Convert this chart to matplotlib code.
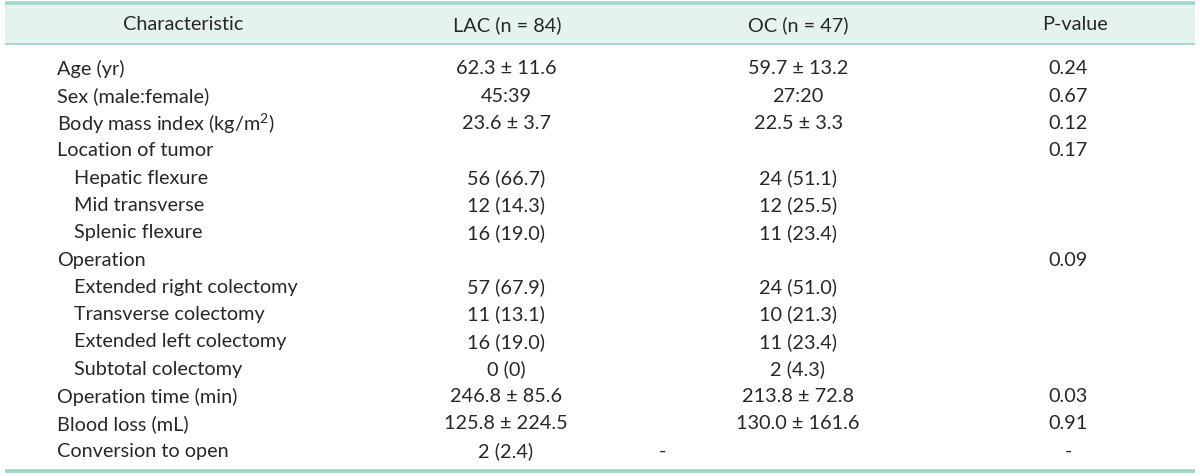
import matplotlib
matplotlib.use('Agg')
import matplotlib.pyplot as plt

plt.rcParams['font.family'] = ['Lato', 'DejaVu Sans']
plt.rcParams['mathtext.fontset'] = 'custom'
plt.rcParams['mathtext.rm'] = 'Lato'
plt.rcParams['mathtext.it'] = 'Lato:italic'

# table content
headers = ['Characteristic', 'LAC (n = 84)', 'OC (n = 47)', 'P-value']
labels = ['Age (yr)', 'Sex (male:female)', 'Body mass index (kg/m$^2$)',
          'Location of tumor', 'Hepatic flexure', 'Mid transverse', 'Splenic flexure',
          'Operation', 'Extended right colectomy', 'Transverse colectomy',
          'Extended left colectomy', 'Subtotal colectomy',
          'Operation time (min)', 'Blood loss (mL)', 'Conversion to open']
subRows = ['Hepatic flexure', 'Mid transverse', 'Splenic flexure',
           'Extended right colectomy', 'Transverse colectomy',
           'Extended left colectomy', 'Subtotal colectomy']
lacVals = ['62.3 \u00b1 11.6', '45:39', '23.6 \u00b1 3.7', '', '56 (66.7)', '12 (14.3)',
           '16 (19.0)', '', '57 (67.9)', '11 (13.1)', '16 (19.0)', '0 (0)',
           '246.8 \u00b1 85.6', '125.8 \u00b1 224.5', '2 (2.4)']
ocVals = ['59.7 \u00b1 13.2', '27:20', '22.5 \u00b1 3.3', '', '24 (51.1)', '12 (25.5)',
          '11 (23.4)', '', '24 (51.0)', '10 (21.3)', '11 (23.4)', '2 (4.3)',
          '213.8 \u00b1 72.8', '130.0 \u00b1 161.6', '-']
pVals = ['0.24', '0.67', '0.12', '0.17', '', '', '', '0.09', '', '', '', '',
         '0.03', '0.91', '-']

W, H = 1200, 477
fig = plt.figure(figsize=(W / 100, H / 100), dpi=100)
ax = fig.add_axes([0, 0, 1, 1])
ax.set_xlim(0, W)
ax.set_ylim(H, 0)
ax.axis('off')

lineCol = '#a3d6cb'
bandCol = '#e4f3ef'
txtCol = '#2a2627'
fs = 14.3

# header band and rules
ax.fill_between([5, 1195], 4, 45, color=bandCol, lw=0)
ax.plot([5, 1195], [4, 4], color=lineCol, lw=2.6, solid_capstyle='butt')
ax.plot([5, 1195], [45, 45], color=lineCol, lw=1.3, solid_capstyle='butt')
ax.plot([5, 1195], [472, 472], color=lineCol, lw=2.8, solid_capstyle='butt')

headX = [183, 507, 798, 1075]
for hx, h in zip(headX, headers):
    ax.text(hx, 25, h, ha='center', va='center', fontsize=fs, color=txtCol)

y0, dy = 69, 27.3
for i, lab in enumerate(labels):
    y = y0 + i * dy
    lx = 74 if lab in subRows else 57
    ax.text(lx, y, lab, ha='left', va='center', fontsize=fs, color=txtCol)
    ax.text(506, y, lacVals[i], ha='center', va='center', fontsize=fs, color=txtCol)
    # the OC dash of the last row sits left of the column in the source
    ox = 662 if i == len(labels) - 1 else 798
    ax.text(ox, y, ocVals[i], ha='center', va='center', fontsize=fs, color=txtCol)
    ax.text(1068, y, pVals[i], ha='center', va='center', fontsize=fs, color=txtCol)

fig.savefig('out.png', dpi=100)
